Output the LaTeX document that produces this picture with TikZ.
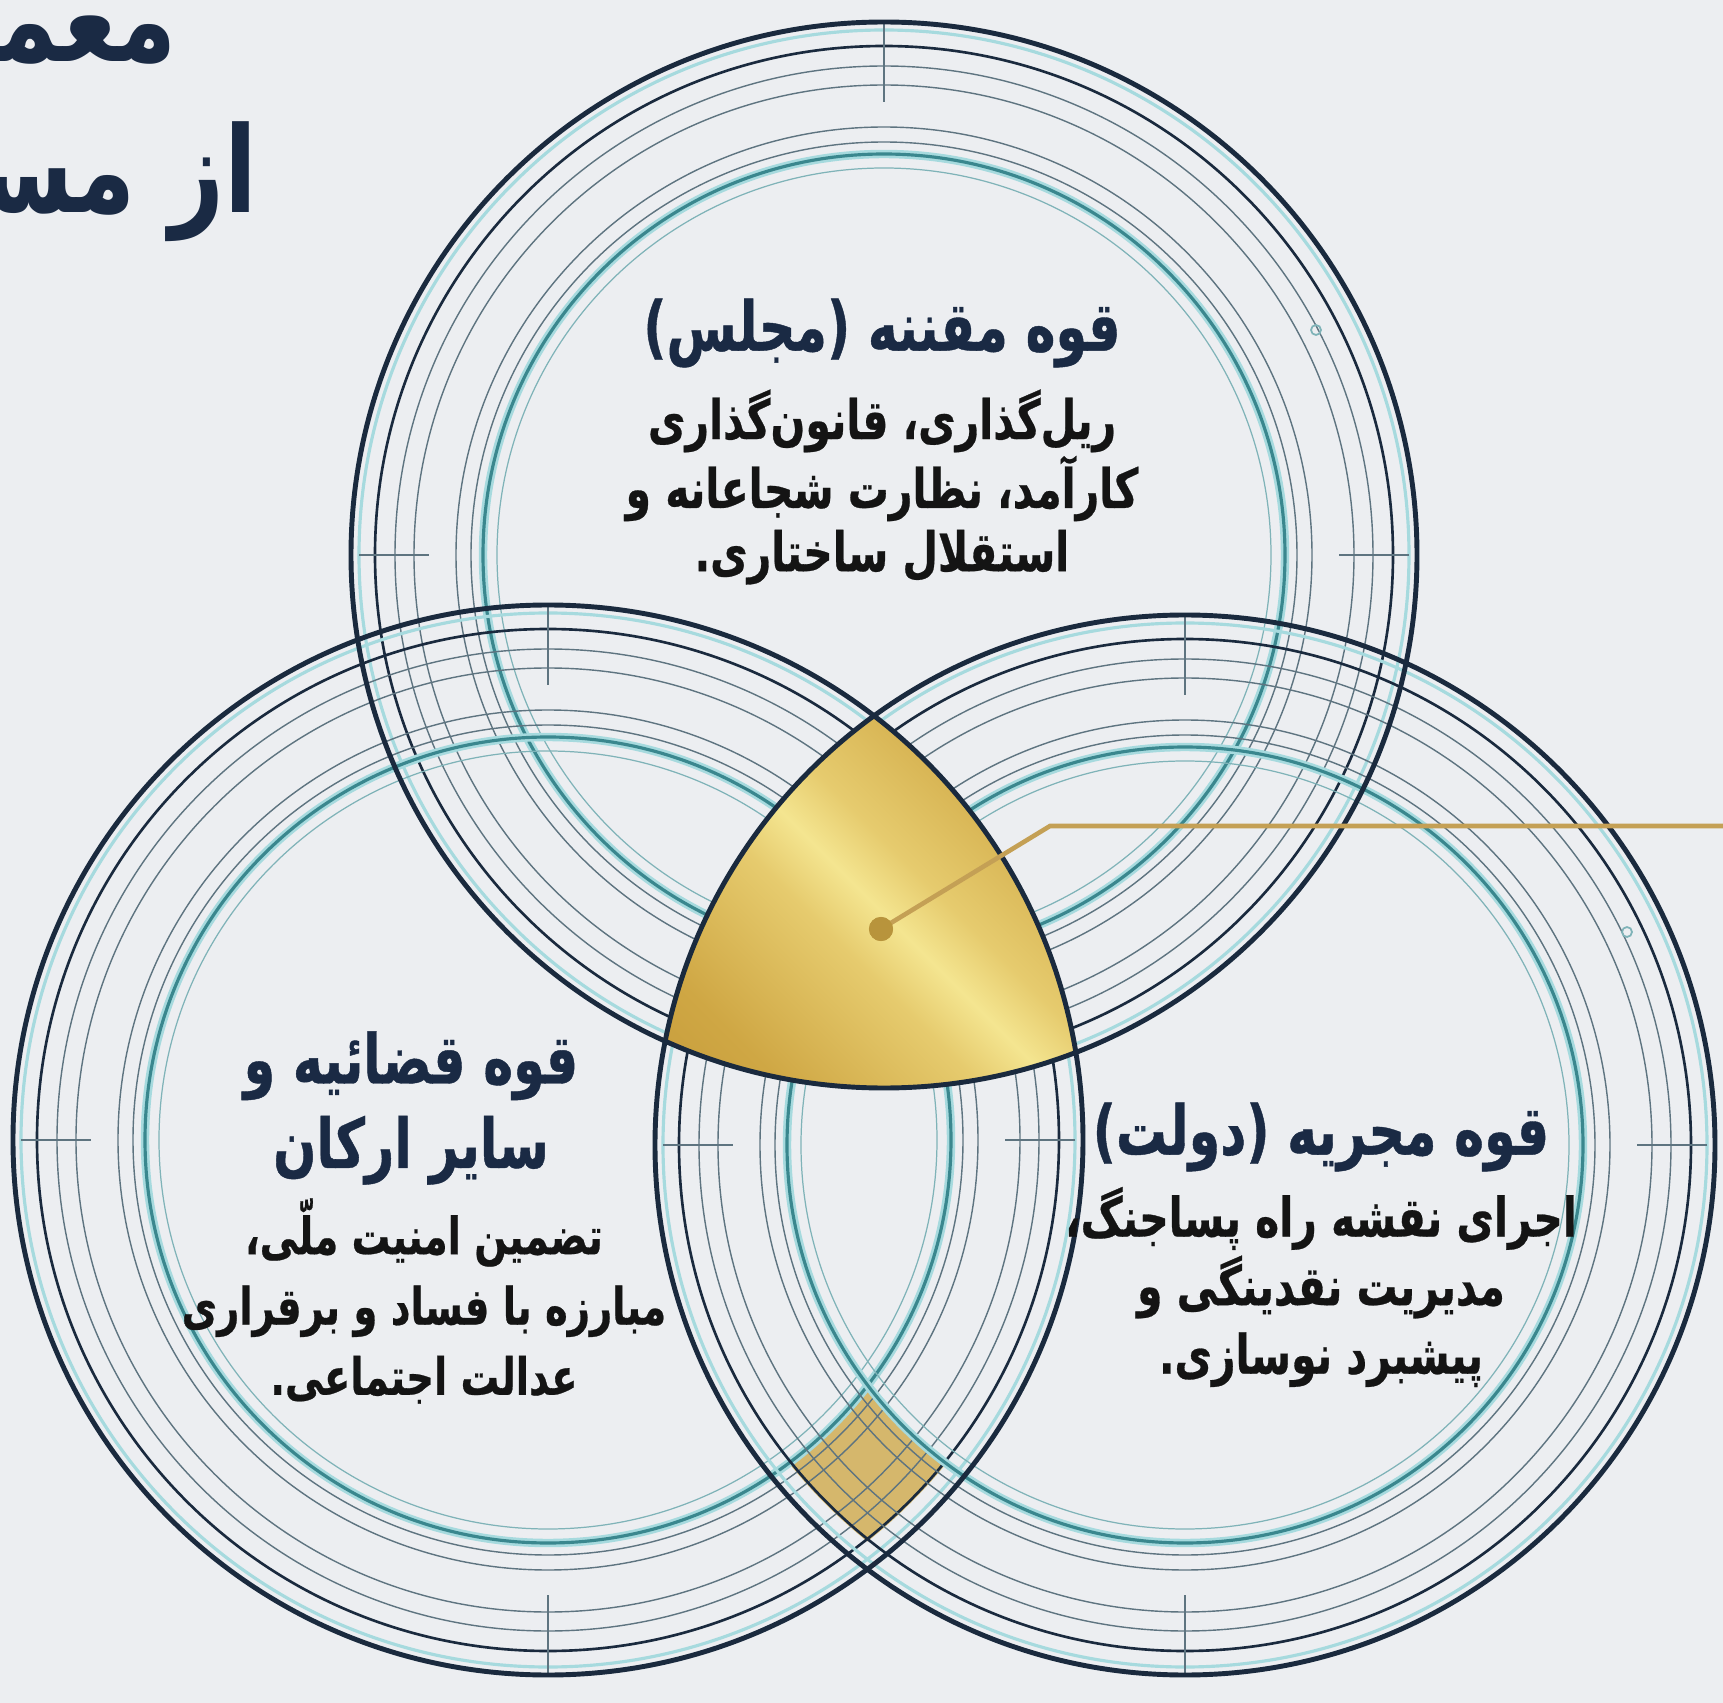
\documentclass[tikz,border=0pt]{standalone}
\usepackage{fontspec}
\newfontfamily\fatitle[Script=Arabic,FakeStretch=0.8]{DejaVu Sans Bold}
\newfontfamily\fahead[Script=Arabic,FakeStretch=0.74,FakeBold=0.6]{DejaVu Sans Bold}
\newfontfamily\fabody[Script=Arabic,FakeStretch=0.75,FakeBold=0.5]{DejaVu Sans Bold}
\TeXXeTstate=1
\definecolor{bg}{HTML}{ECEEF1}
\definecolor{navy}{HTML}{1A2A3E}
\definecolor{ringgray}{HTML}{5E7480}
\definecolor{ringteal}{HTML}{3A878E}
\definecolor{glowc}{HTML}{A6DADE}
\definecolor{lightteal}{HTML}{7FB3B8}
\definecolor{headc}{HTML}{1A2A44}
\definecolor{bodyc}{HTML}{141414}
\definecolor{golddk}{HTML}{B88A2C}
\definecolor{goldmd}{HTML}{CFA744}
\definecolor{goldlt}{HTML}{E6CB6E}
\definecolor{goldhi}{HTML}{F4E590}
\definecolor{goldtint}{HTML}{D2AE55}
\definecolor{goldline}{HTML}{C4A055}
\definecolor{golddot}{HTML}{B8943C}
\pgfdeclareverticalshading{goldsh}{100bp}{color(0bp)=(golddk); color(28bp)=(goldmd); color(44bp)=(goldlt); color(50bp)=(goldhi); color(56bp)=(goldlt); color(72bp)=(goldmd); color(100bp)=(golddk)}
\newcommand\ringsat[2]{%
  \draw[glowr] (#1) circle[radius=#2-8];
  \draw[midr] (#1) circle[radius=#2-24];
  \draw[thinr] (#1) circle[radius=#2-44];
  \draw[thinr] (#1) circle[radius=#2-63];
  \draw[thinr] (#1) circle[radius=#2-105];
  \draw[thinr] (#1) circle[radius=#2-120];
  \draw[tealglow] (#1) circle[radius=#2-132];
  \draw[tealr] (#1) circle[radius=#2-132];
  \draw[lightr] (#1) circle[radius=#2-146];
}
\newcommand\ticksat[2]{%
  \begin{scope}[shift={(#1)}]
    \draw[tickr] (0,{-#2}) -- (0,{-#2+80});
    \draw[tickr] (0,{#2}) -- (0,{#2-80});
    \draw[tickr] ({-#2+8},0) -- ({-#2+78},0);
    \draw[tickr] ({#2-8},0) -- ({#2-78},0);
  \end{scope}
}
\begin{document}
\begin{tikzpicture}[x=0.01cm,y=-0.01cm,
  outerr/.style={draw=navy, line width=1.4pt},
  glowr/.style={draw=glowc, line width=0.9pt},
  midr/.style={draw=navy, line width=0.75pt},
  thinr/.style={draw=ringgray, line width=0.4pt},
  tealr/.style={draw=ringteal, line width=0.9pt},
  tealglow/.style={draw=glowc, line width=2.4pt},
  lightr/.style={draw=lightteal, line width=0.35pt},
  tickr/.style={draw=ringgray, line width=0.45pt},
  marker/.style={draw=lightteal, line width=0.5pt},
  head/.style={font=\fahead\fontsize{19.5}{24}\selectfont, text=headc, align=center, inner sep=0pt},
  body/.style={font=\fabody\fontsize{15.5}{19.5}\selectfont, text=bodyc, align=center, inner sep=0pt},
  titlet/.style={font=\fatitle\fontsize{34}{40}\selectfont, text=headc, inner sep=0pt},
  goldconn/.style={draw=goldline, line width=1.3pt},
  dotn/.style={circle, fill=golddot, minimum size=0.24cm, inner sep=0pt},
]
\useasboundingbox (0,0) rectangle (1723,1703);
\clip (0,0) rectangle (1723,1703);
\fill[bg] (0,0) rectangle (1723,1703);

\coordinate (T) at (884,555);
\coordinate (L) at (548,1140);
\coordinate (R) at (1185,1145);

% gold tint where the lower ring bands cross
\begin{scope}[even odd rule]
  \clip (L) circle[radius=513] (L) circle[radius=401];
  \clip (R) circle[radius=508] (R) circle[radius=396];
  \fill[goldtint, opacity=0.85] (600,1300) rectangle (1100,1703);
\end{scope}

\ringsat{T}{533}
\ringsat{L}{535}
\ringsat{R}{530}
\ticksat{T}{533}
\ticksat{L}{535}
\ticksat{R}{530}
\draw[marker] (1316,330) circle[radius=5];
\draw[marker] (1627,932) circle[radius=5];

% gold centre
\begin{scope}
  \clip (T) circle[radius=533];
  \clip (L) circle[radius=535];
  \clip (R) circle[radius=530];
  \shade[shading=goldsh, shading angle=-45] (650,680) rectangle (1090,1120);
\end{scope}

\draw[outerr] (T) circle[radius=533];
\draw[outerr] (L) circle[radius=535];
\draw[outerr] (R) circle[radius=530];

% connector
\node[dotn] (dot) at (881,929) {};
\coordinate (bend) at (1050,826);
\coordinate (lend) at (1723,826);
\draw[goldconn] (dot.center) -- (bend) -- (lend);
\node[dotn] at (dot) {};

% title (cut by the left edge)
\node[titlet, anchor=base east] (title1) at (177,62) {\beginR معماری\endR};
\node[titlet, anchor=base east] (title2) at (258,213) {\beginR از مسیر\endR};

% top circle
\node[head] (thead) at (882,333) {\beginR قوه مقننه (مجلس)\endR};
\node[body, font=\fabody\fontsize{15.5}{18}\selectfont] (tbody) at (882,487) {\beginR ریل‌گذاری، قانون‌گذاری\endR\\\beginR کارآمد، نظارت شجاعانه و\endR\\\beginR استقلال ساختاری.\endR};

% left circle
\node[head] (lhead) at (411,1108) {\beginR قوه قضائیه و\endR\\\beginR سایر ارکان\endR};
\node[body, font=\fabody\fontsize{14.6}{20}\selectfont] (lbody) at (424,1301) {\beginR تضمین امنیت ملّی،\endR\\\beginR مبارزه با فساد و برقراری\endR\\\beginR عدالت اجتماعی.\endR};

% right circle
\node[head] (rhead) at (1321,1137) {\beginR قوه مجریه (دولت)\endR};
\node[body] (rbody) at (1321,1287) {\beginR اجرای نقشه راه پساجنگ،\endR\\\beginR مدیریت نقدینگی و\endR\\\beginR پیشبرد نوسازی.\endR};
\end{tikzpicture}
\end{document}
